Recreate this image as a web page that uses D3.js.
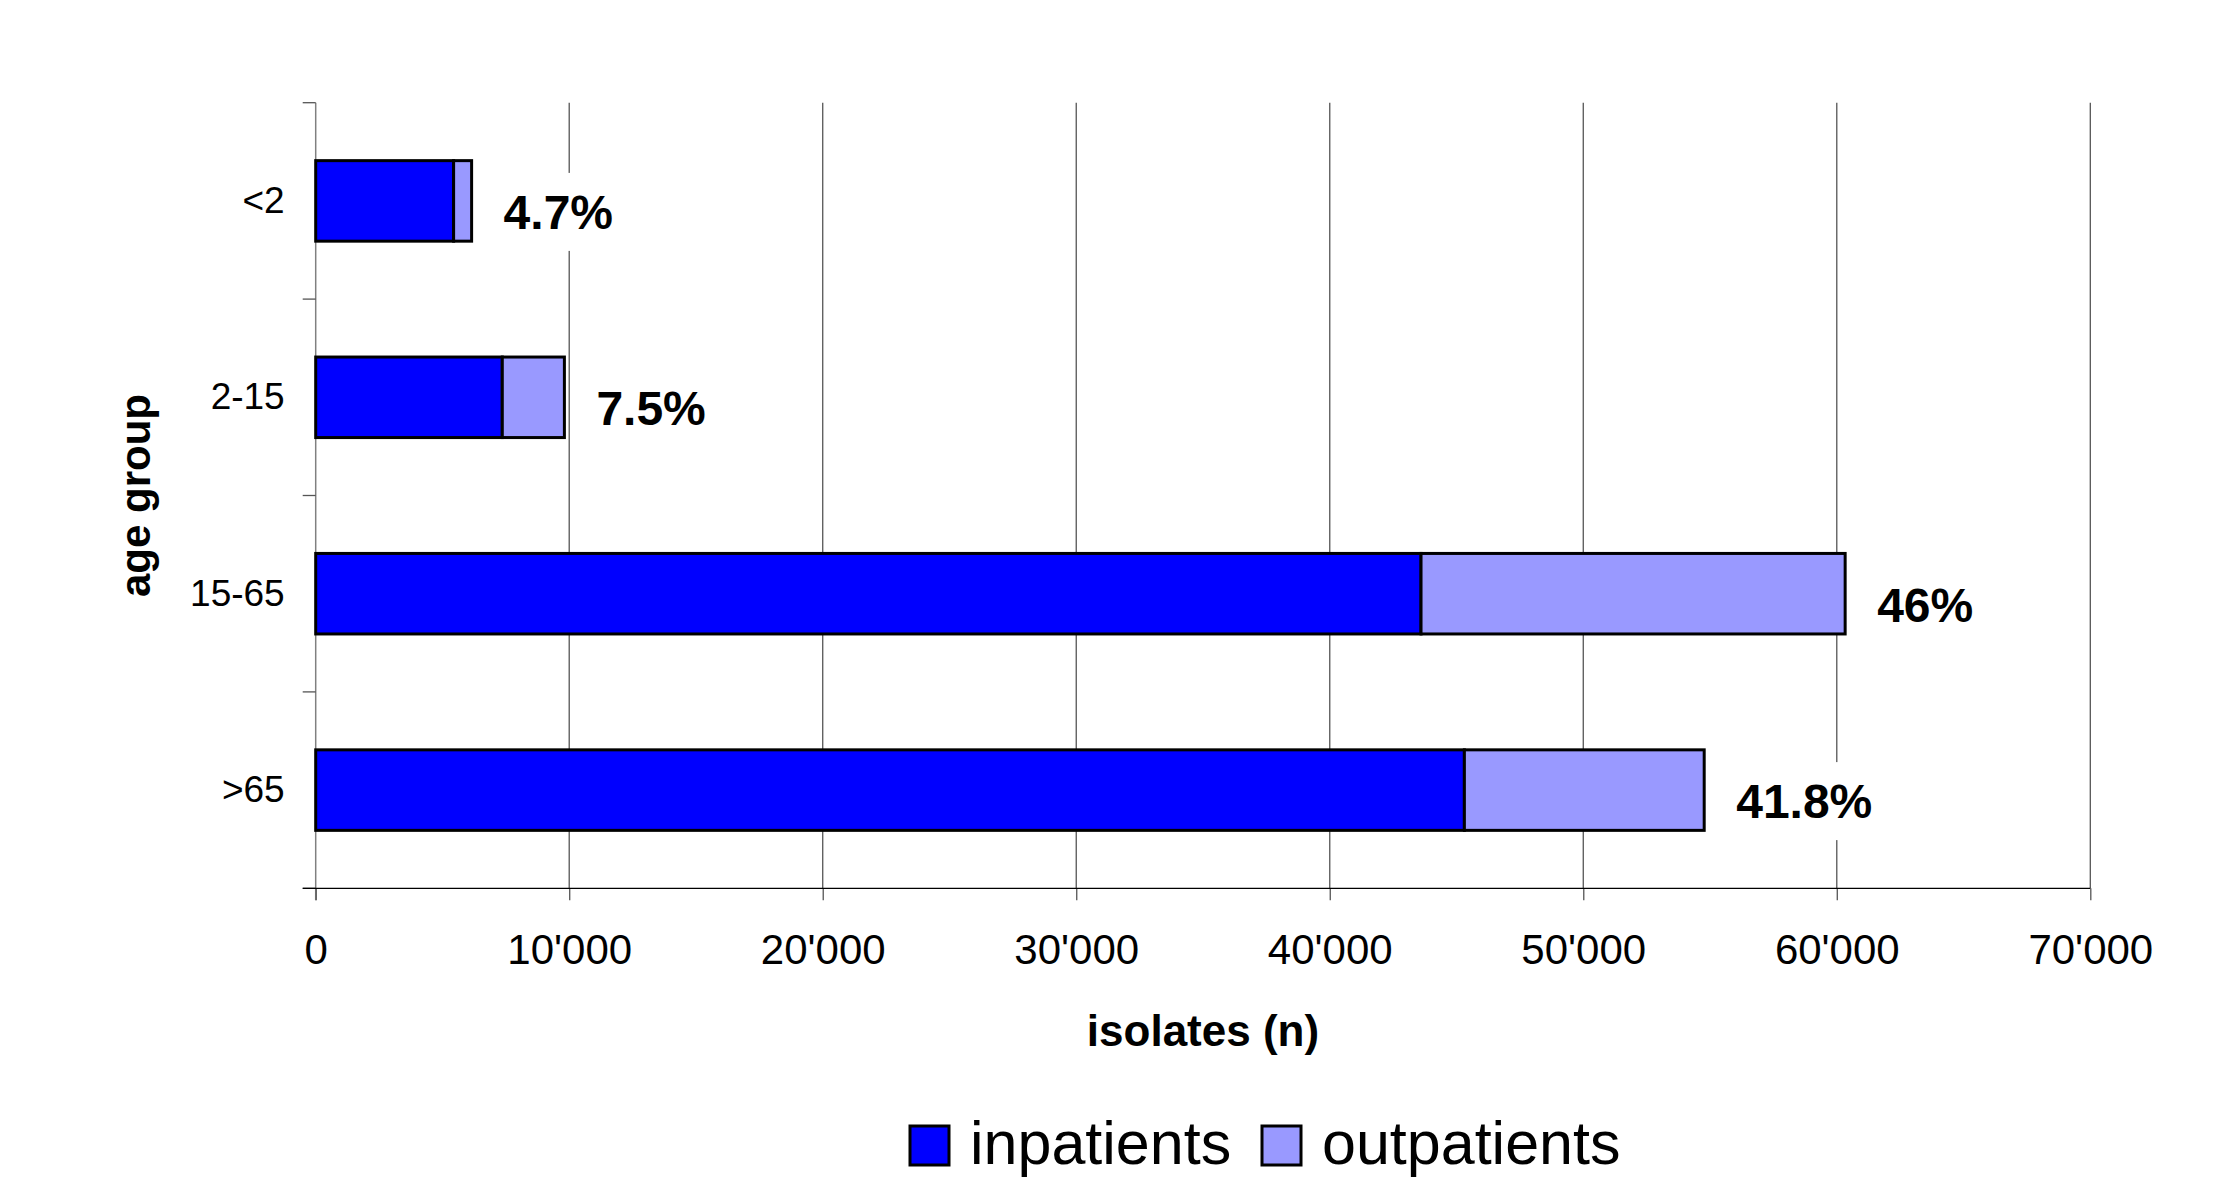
<!DOCTYPE html>
<html>
<head>
<meta charset="utf-8">
<script src="https://cdn.jsdelivr.net/npm/d3@7"></script>
<style>
  body { margin: 0; background: #fff; }
  svg text { font-family: "Liberation Sans", Arial, sans-serif; fill: #000; }
</style>
</head>
<body>
<svg id="svg1"></svg>
<script>
// data
var ageGroups   = ["<2", "2-15", "15-65", ">65"];
var inpatients  = [5440, 7360, 43600, 45310];
var outpatients = [710, 2450, 16730, 9460];
var shareLabels = ["4.7%", "7.5%", "46%", "41.8%"];
var xTicks      = [0, 10000, 20000, 30000, 40000, 50000, 60000, 70000];
var seriesNames = ["inpatients", "outpatients"];
var seriesColors = ["#0000ff", "#9999ff"];

var W = 2223, H = 1187;
var margin = {left: 315.7, top: 102.7, right: 132.7, bottom: 298.7};
var widthA = W - margin.left - margin.right;
var heightA = H - margin.top - margin.bottom;

var root = d3.select("#svg1").attr("width", W).attr("height", H);
var svg = root.append("g")
  .attr("transform", `translate(${margin.left},${margin.top})`);

var data = ageGroups.map(function(g, i){
  return {group: g, inp: inpatients[i], out: outpatients[i], label: shareLabels[i]};
});

// scales
var xs = d3.scaleLinear().domain([0, 70000]).range([0, widthA]);
var yb = d3.scaleBand().domain(ageGroups).range([0, heightA])
  .paddingInner(0.59).paddingOuter(0.295);

var fmt = d3.formatLocale({decimal: ".", thousands: "'", grouping: [3], currency: ["", ""]}).format(",");

// vertical gridlines
svg.selectAll(".grid").data(xTicks.slice(1))
  .enter().append("line")
  .attr("x1", d => xs(d)).attr("x2", d => xs(d))
  .attr("y1", 0).attr("y2", heightA)
  .style("stroke", "#555").style("stroke-width", 1.3);

// y axis (gray line, ticks at band edges)
svg.append("line")
  .attr("x1", 0).attr("x2", 0).attr("y1", 0).attr("y2", heightA + 12)
  .style("stroke", "#808080").style("stroke-width", 1.5);
svg.selectAll(".ytick").data(d3.range(ageGroups.length + 1))
  .enter().append("line")
  .attr("x1", -13).attr("x2", 0)
  .attr("y1", i => i * yb.step()).attr("y2", i => i * yb.step())
  .style("stroke", "#555").style("stroke-width", 1.3);

// x axis
var xAxisG = svg.append("g")
  .attr("transform", "translate(0," + heightA + ")")
  .call(d3.axisBottom(xs).tickValues(xTicks).tickFormat(fmt).tickSize(12).tickPadding(0));
xAxisG.select(".domain").remove();
xAxisG.selectAll(".tick line").style("stroke", "#555").style("stroke-width", 1.3);
xAxisG.selectAll(".tick text")
  .attr("y", 76).attr("dy", 0)
  .style("font-size", "42px").style("fill", "#000");
svg.append("line")
  .attr("x1", -13).attr("x2", widthA).attr("y1", heightA).attr("y2", heightA)
  .style("stroke", "#000").style("stroke-width", 1.3);

// y category labels
svg.selectAll(".ylab").data(ageGroups)
  .enter().append("text")
  .attr("x", -31)
  .attr("y", d => yb(d) + yb.bandwidth() / 2)
  .attr("dy", "0.32em")
  .style("text-anchor", "end")
  .style("font-size", "37px")
  .text(d => d);

// stacked bars
svg.selectAll(".barIn").data(data)
  .enter().append("rect")
  .attr("x", xs(0))
  .attr("y", d => yb(d.group))
  .attr("width", d => xs(d.inp) - xs(0))
  .attr("height", yb.bandwidth())
  .style("fill", seriesColors[0])
  .style("stroke", "#000").style("stroke-width", 3);

svg.selectAll(".barOut").data(data)
  .enter().append("rect")
  .attr("x", d => xs(d.inp))
  .attr("y", d => yb(d.group))
  .attr("width", d => xs(d.inp + d.out) - xs(d.inp))
  .attr("height", yb.bandwidth())
  .style("fill", seriesColors[1])
  .style("stroke", "#000").style("stroke-width", 3);

// share labels with white box behind
var labG = svg.selectAll(".share").data(data)
  .enter().append("g")
  .attr("transform", d => `translate(${xs(d.inp + d.out) + 32},${yb(d.group) + yb.bandwidth() / 2})`);
labG.append("rect").attr("class", "bg");
labG.append("text")
  .attr("x", 0).attr("y", 28)
  .style("font-size", "48px").style("font-weight", "bold")
  .text(d => d.label);
labG.each(function(){
  var g = d3.select(this);
  var w = g.select("text").node().getComputedTextLength();
  g.select("rect.bg")
    .attr("x", -6).attr("y", -28).attr("width", w + 12).attr("height", 78)
    .style("fill", "#fff");
});

// axis titles
svg.append("text")
  .attr("x", widthA / 2).attr("y", 943)
  .style("text-anchor", "middle")
  .style("font-size", "44px").style("font-weight", "bold")
  .text("isolates (n)");

root.append("text")
  .attr("transform", `translate(150,${margin.top + heightA / 2}) rotate(-90)`)
  .style("text-anchor", "middle")
  .style("font-size", "42px").style("font-weight", "bold")
  .text("age group");

// legend
var legX = [910, 1262];
var leg = root.selectAll(".leg").data(seriesNames)
  .enter().append("g")
  .attr("transform", (d, i) => `translate(${legX[i]},1126)`);
leg.append("rect")
  .attr("width", 39).attr("height", 39)
  .style("fill", (d, i) => seriesColors[i])
  .style("stroke", "#000").style("stroke-width", 3);
leg.append("text")
  .attr("x", 60).attr("y", 38)
  .style("font-size", "61px")
  .text(d => d);
</script>
</body>
</html>
